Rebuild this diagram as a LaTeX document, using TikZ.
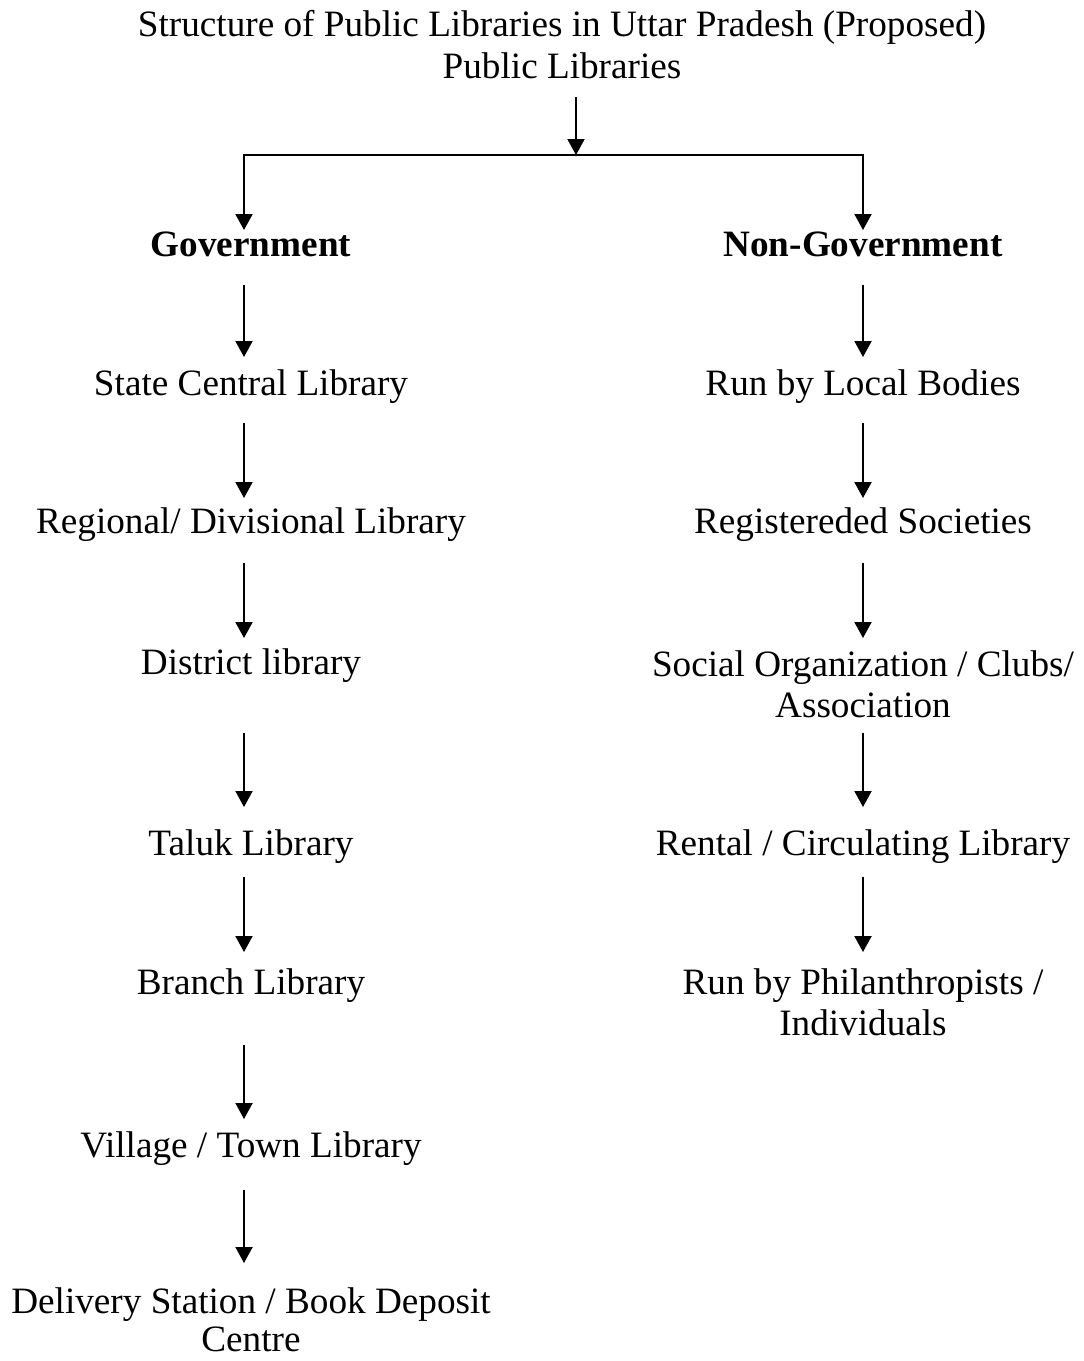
\documentclass[tikz,border=0pt]{standalone}
\usepackage{fontspec}
\setmainfont{Liberation Serif}
\usetikzlibrary{arrows.meta}
\begin{document}
\begin{tikzpicture}[x=0.5pt,y=-0.5pt,
  lbl/.style={inner sep=0pt, outer sep=0pt, anchor=base, align=center,
    font=\fontsize{18.6}{20.5}\selectfont},
  hd/.style={lbl, font=\fontsize{18.6}{20.5}\selectfont\bfseries},
  conn/.style={line width=1pt, -{Triangle[width=8.5pt,length=8pt]}}]
\path[use as bounding box] (0,0) rectangle (1083,1361);
% columns and junction
\coordinate (L) at (244,0);
\coordinate (R) at (863,0);
\coordinate (J) at (576,155);
% heading
\node[lbl] (title) at (562,36) {Structure of Public Libraries in Uttar Pradesh (Proposed)};
\node[lbl] (pl) at (562,78) {Public Libraries};
% left column (multi-line nodes are placed at the baseline of their last line)
\node[hd] (gov) at (251,256) {Government};
\node[lbl] (scl) at (251,395) {State Central Library};
\node[lbl] (reg) at (251,533) {Regional/ Divisional Library};
\node[lbl] (dist) at (251,674) {District library};
\node[lbl] (tal) at (251,855) {Taluk Library};
\node[lbl] (br) at (251,994) {Branch Library};
\node[lbl] (vil) at (251,1157) {Village / Town Library};
\node[lbl, font=\fontsize{18.6}{19}\selectfont] (del) at (251,1351) {Delivery Station / Book Deposit\\Centre};
% right column
\node[hd] (ngov) at (863,256) {Non-Government};
\node[lbl] (rlb) at (863,395) {Run by Local Bodies};
\node[lbl] (rs) at (863,533) {Registereded Societies};
\node[lbl] (soc) at (863,717) {Social Organization / Clubs/\\Association};
\node[lbl] (ren) at (863,855) {Rental / Circulating Library};
\node[lbl] (phil) at (863,1035) {Run by Philanthropists /\\Individuals};
% top connectors
\draw[conn, shorten <=9.5pt] (pl.base -| J) -- (J);
\draw[conn, shorten >=13pt] (J) -| (gov.base -| L);
\draw[conn, shorten >=13pt] (J) -| (ngov.base -| R);
% left chain
\draw[conn, shorten <=14.5pt, shorten >=19pt] (gov.base -| L) -- (scl.base -| L);
\draw[conn, shorten <=14pt, shorten >=17.5pt] (scl.base -| L) -- (reg.base -| L);
\draw[conn, shorten <=15pt, shorten >=18pt] (reg.base -| L) -- (dist.base -| L);
\draw[conn, shorten <=29.5pt, shorten >=24pt] (dist.base -| L) -- (tal.base -| L);
\draw[conn, shorten <=11pt, shorten >=21pt] (tal.base -| L) -- (br.base -| L);
\draw[conn, shorten <=25.5pt, shorten >=19pt] (br.base -| L) -- (vil.base -| L);
\draw[conn, shorten <=16.5pt, shorten >=44pt] (vil.base -| L) -- (del.base -| L);
% right chain
\draw[conn, shorten <=14.5pt, shorten >=19pt] (ngov.base -| R) -- (rlb.base -| R);
\draw[conn, shorten <=14pt, shorten >=17.5pt] (rlb.base -| R) -- (rs.base -| R);
\draw[conn, shorten <=15pt, shorten >=39.5pt] (rs.base -| R) -- (soc.base -| R);
\draw[conn, shorten <=8pt, shorten >=24pt] (soc.base -| R) -- (ren.base -| R);
\draw[conn, shorten <=11pt, shorten >=41.5pt] (ren.base -| R) -- (phil.base -| R);
\end{tikzpicture}
\end{document}
